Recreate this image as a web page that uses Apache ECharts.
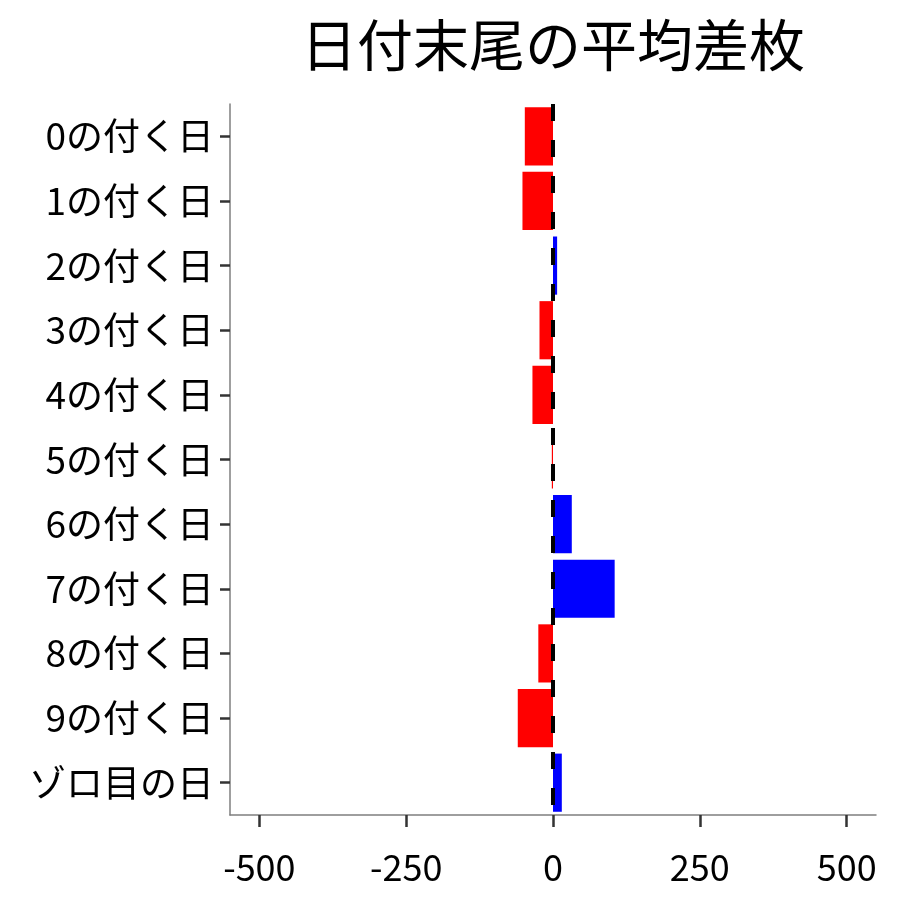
<!DOCTYPE html>
<html>
<head>
<meta charset="utf-8">
<script src="https://cdn.jsdelivr.net/npm/echarts@6/dist/echarts.min.js"></script>
<style>
html, body { margin: 0; padding: 0; background: #fff; }
#main { width: 900px; height: 900px; }
</style>
</head>
<body>
<div id="main"></div>
<script>
// 日付末尾ごとのカテゴリ
var days = ['0の付く日', '1の付く日', '2の付く日', '3の付く日', '4の付く日',
            '5の付く日', '6の付く日', '7の付く日', '8の付く日', '9の付く日', 'ゾロ目の日'];
// 平均差枚
var diffs = [-48, -52, 7, -23, -35, -2, 32, 105, -25, -60, 15];
// x軸の目盛り
var xTicks = [-500, -250, 0, 250, 500];

var font = 'Noto Sans CJK JP';

function drawChart(){
    var chart = echarts.init(document.getElementById('main'));
    var option = {
        backgroundColor: '#fff',
        animation: false,
        title: {
            text: '日付末尾の平均差枚',
            left: 553,
            textAlign: 'center',
            top: 17,
            padding: 0,
            textStyle: {
                fontFamily: font,
                fontSize: 56,
                fontWeight: 'normal',
                color: '#000'
            }
        },
        grid: {
            left: 230,
            right: 24,
            top: 104,
            bottom: 85
        },
        xAxis: {
            type: 'value',
            min: -550,
            max: 550,
            splitLine: { show: false },
            axisLine: { show: true, onZero: false, lineStyle: { color: '#7f7f7f', width: 1.5 } },
            axisTick: { show: true, length: 12, customValues: xTicks, lineStyle: { color: '#333', width: 2.5 } },
            axisLabel: {
                customValues: xTicks,
                margin: 34,
                fontFamily: font,
                fontSize: 36,
                color: '#000'
            }
        },
        yAxis: {
            type: 'category',
            inverse: true,
            data: days,
            axisLine: { show: true, onZero: false, lineStyle: { color: '#7f7f7f', width: 1.5 } },
            axisTick: { show: true, length: 10, alignWithLabel: true, lineStyle: { color: '#333', width: 2.5 } },
            axisLabel: {
                margin: 16,
                fontFamily: font,
                fontSize: 37,
                color: '#000'
            }
        },
        series: [
            {
                type: 'bar',
                data: diffs.map(function (v) {
                    return { value: v, itemStyle: { color: v < 0 ? '#ff0000' : '#0000ff' } };
                }),
                barCategoryGap: '10%',
                markLine: {
                    silent: true,
                    symbol: 'none',
                    label: { show: false },
                    lineStyle: { color: '#000', width: 4, type: [17, 19] },
                    data: [{ xAxis: 0 }]
                }
            }
        ]
    };
    chart.setOption(option);
}

drawChart();
</script>
</body>
</html>
